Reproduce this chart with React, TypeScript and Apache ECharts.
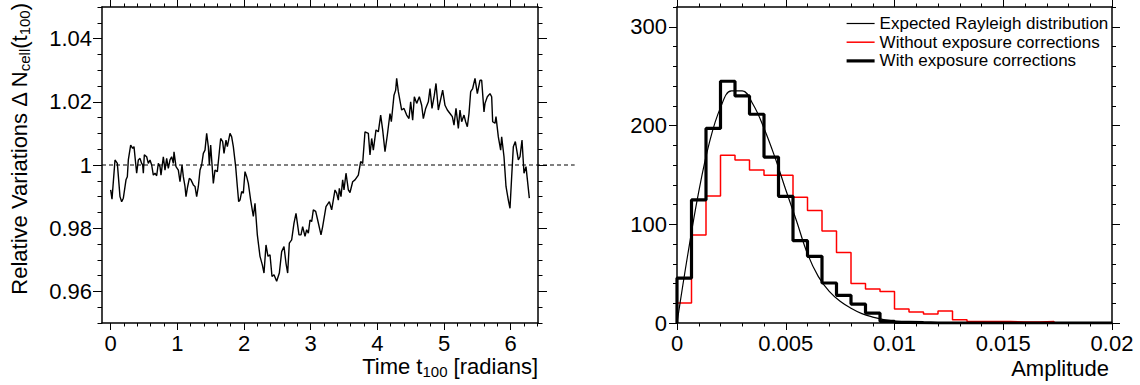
import React, { useEffect, useRef } from "react";
import * as echarts from "echarts";

// ---------- Left panel: relative variations vs time ----------
const relativeVariation: [number, number][] = [
  [0, 0.9921], [0.02, 0.9892], [0.065, 1.0016], [0.1, 1.0005], [0.14, 0.99], [0.165, 0.9884], [0.19, 0.9895], [0.23, 0.9953], [0.25, 0.9963], [0.265, 1.0016],
  [0.3, 1.0063], [0.33, 1.0053], [0.35, 1.0058], [0.365, 1.0026], [0.39, 0.9974], [0.415, 1.0016], [0.44, 1.0021], [0.465, 1.0005], [0.48, 1.0], [0.49, 0.9974],
  [0.505, 1.0032], [0.54, 1.0026], [0.565, 1.0005], [0.59, 1.0016], [0.615, 1.0], [0.64, 0.9968], [0.665, 0.9974], [0.69, 0.9966], [0.715, 1.0005], [0.74, 0.9995],
  [0.755, 0.9968], [0.79, 1.0026], [0.815, 0.9984], [0.84, 1.0021], [0.865, 0.9989], [0.89, 1.0016], [0.915, 1.0026], [0.94, 1.0005], [0.95, 1.0042], [0.98, 0.9995],
  [1.015, 0.9984], [1.04, 0.9947], [1.07, 1.0], [1.09, 0.9963], [1.115, 0.9932], [1.13, 0.99], [1.155, 0.9932], [1.18, 0.9958], [1.205, 0.9953], [1.24, 0.9937],
  [1.265, 0.9932], [1.29, 0.99], [1.315, 0.9932], [1.34, 0.9984], [1.365, 1.0], [1.39, 1.0037], [1.415, 1.0047], [1.44, 1.01], [1.465, 1.0058], [1.48, 1.0],
  [1.5, 1.0063], [1.54, 0.9942], [1.565, 0.9984], [1.6, 0.9979], [1.63, 1.0042], [1.65, 1.0084], [1.68, 1.0074], [1.7, 1.0037], [1.73, 1.0079], [1.75, 1.0058],
  [1.79, 1.01], [1.815, 1.0089], [1.84, 1.0058], [1.875, 0.9995], [1.9, 0.9932], [1.92, 0.9884], [1.94, 0.9889], [1.965, 0.9916], [1.99, 0.9911], [2.015, 0.9979],
  [2.04, 0.9963], [2.065, 0.9942], [2.1, 0.9889], [2.14, 0.9837], [2.165, 0.9879], [2.2, 0.9779], [2.24, 0.9711], [2.275, 0.9684], [2.3, 0.9658], [2.33, 0.9747],
  [2.36, 0.9711], [2.39, 0.9716], [2.42, 0.9647], [2.45, 0.9653], [2.49, 0.9632], [2.53, 0.9658], [2.565, 0.9726], [2.6, 0.9742], [2.63, 0.9689], [2.655, 0.9658],
  [2.68, 0.9753], [2.715, 0.9763], [2.75, 0.9816], [2.78, 0.9847], [2.825, 0.9779], [2.855, 0.9779], [2.88, 0.9805], [2.915, 0.9774], [2.94, 0.9795], [2.965, 0.9784],
  [2.99, 0.9826], [3.015, 0.9821], [3.04, 0.9858], [3.075, 0.9853], [3.105, 0.9826], [3.155, 0.9779], [3.18, 0.9805], [3.23, 0.9868], [3.28, 0.9884], [3.315, 0.9858],
  [3.365, 0.9921], [3.39, 0.9911], [3.415, 0.9889], [3.43, 0.9926], [3.455, 0.99], [3.48, 0.9953], [3.5, 0.9921], [3.53, 0.9974], [3.565, 0.9921], [3.59, 0.9913],
  [3.63, 0.9947], [3.665, 0.9953], [3.715, 0.9968], [3.75, 1.0011], [3.78, 1.0005], [3.815, 1.0105], [3.865, 1.01], [3.89, 1.0032], [3.915, 1.0084], [3.94, 1.0047],
  [3.98, 1.0111], [4.015, 1.0105], [4.05, 1.0158], [4.08, 1.0111], [4.115, 1.0042], [4.15, 1.0095], [4.19, 1.0163], [4.21, 1.0137], [4.25, 1.0221], [4.275, 1.0237],
  [4.29, 1.0274], [4.315, 1.0232], [4.365, 1.0174], [4.4, 1.0179], [4.44, 1.0158], [4.475, 1.0147], [4.5, 1.02], [4.53, 1.0142], [4.555, 1.0216], [4.59, 1.0195],
  [4.63, 1.0216], [4.665, 1.0189], [4.69, 1.0147], [4.725, 1.0179], [4.765, 1.02], [4.79, 1.0242], [4.82, 1.0179], [4.855, 1.0221], [4.88, 1.0258], [4.915, 1.0174],
  [4.98, 1.0237], [5.015, 1.0189], [5.05, 1.0174], [5.09, 1.0163], [5.125, 1.0153], [5.15, 1.0126], [5.18, 1.0179], [5.215, 1.0116], [5.24, 1.0174], [5.265, 1.0137],
  [5.3, 1.0158], [5.325, 1.0137], [5.35, 1.0121], [5.375, 1.0163], [5.4, 1.0232], [5.43, 1.0242], [5.465, 1.0274], [5.5, 1.0226], [5.54, 1.0268], [5.565, 1.0268],
  [5.6, 1.0168], [5.615, 1.0195], [5.65, 1.0216], [5.69, 1.0226], [5.715, 1.0216], [5.73, 1.0137], [5.765, 1.0132], [5.78, 1.0153], [5.815, 1.0089], [5.85, 1.0047],
  [5.865, 1.0089], [5.9, 1.0026], [5.93, 0.9932], [5.965, 0.9889], [5.99, 0.9863], [6.015, 0.9963], [6.04, 1.0058], [6.07, 1.0074], [6.115, 1.0016], [6.14, 1.0026],
  [6.17, 1.0079], [6.2, 0.9974], [6.23, 0.9995], [6.28, 0.9895],
];
const referenceLevel = 1;

// ---------- Right panel: amplitude histograms ----------
const AMP_MIN = 0;
const AMP_MAX = 0.02;
const N_BINS = 30;
const withoutCorrections = [
  20.2, 89.2, 128.6, 170, 165, 155, 149.5, 149.5, 127.3, 114,
  93.2, 71.5, 40.1, 34.4, 32, 14.1, 11.1, 9.1, 12.2, 3.3,
  1.6, 1.6, 1.6, 1, 1, 1.6, 0, 0, 0, 0,
];
const withCorrections = [
  45.5, 124.6, 197, 244.8, 230, 211.4, 168, 128.3, 83.4, 67.5,
  40.5, 28, 19.2, 10.1, 1.7, 0.7, 0.3, 0, 0, 0,
  0, 0, 0, 0, 0, 0, 0, 0, 0, 0,
];
const rayleighX = [0, 0.0005, 0.001, 0.0015, 0.002, 0.0025, 0.003, 0.0035, 0.004, 0.0045, 0.005, 0.0055, 0.006, 0.0065, 0.007, 0.0075, 0.008, 0.0085, 0.009, 0.0095, 0.01, 0.011, 0.012, 0.013, 0.02];
const rayleighY = [0, 69.9, 133, 183.6, 218.1, 235, 235.1, 221.2, 197.3, 168, 135, 103, 70, 47, 32, 22, 15, 9.5, 6, 3.5, 2, 0.6, 0.15, 0, 0];

// ---------- Tick labels ----------
const leftXTicks = [0, 1, 2, 3, 4, 5, 6];
const leftYTicks = [0.96, 0.98, 1, 1.02, 1.04];
const rightXTicks = [0, 0.005, 0.01, 0.015, 0.02];
const rightYTicks = [0, 100, 200, 300];

const legendNames = [
  "Expected Rayleigh distribution",
  "Without exposure corrections",
  "With exposure corrections",
];

const FONT = '"Liberation Sans", Arial, Helvetica, sans-serif';

function steps(start: number, stop: number, step: number, lo: number, hi: number) {
  const out: number[] = [];
  const n = Math.round((stop - start) / step);
  for (let i = 0; i <= n; i++) {
    const v = parseFloat((start + i * step).toFixed(6));
    if (v >= lo - 1e-9 && v <= hi + 1e-9) out.push(v);
  }
  return out;
}

function fmt(v: number) {
  return String(parseFloat(Number(v).toPrecision(6)));
}

function makeAxes(
  dim: "x" | "y",
  gridIndex: number,
  min: number,
  max: number,
  majors: number[],
  minors: number[],
  majorLen: number,
  minorLen: number
) {
  const positions = dim === "x" ? ["bottom", "top"] : ["left", "right"];
  const out: any[] = [];
  positions.forEach((pos, i) => {
    const base = { type: "value", gridIndex, position: pos, min, max, splitLine: { show: false }, silent: true };
    out.push({
      ...base,
      axisLine: { show: true, onZero: false, lineStyle: { color: "#000", width: 1.5 } },
      axisTick: { show: true, inside: false, length: majorLen, customValues: majors, lineStyle: { color: "#000", width: 1 } },
      axisLabel: {
        show: i === 0,
        customValues: majors,
        color: "#000",
        fontSize: 22,
        fontFamily: FONT,
        margin: dim === "x" ? 9 : 10,
        formatter: fmt,
      },
    });
    out.push({
      ...base,
      axisLine: { show: false, onZero: false },
      axisTick: { show: true, inside: false, length: minorLen, customValues: minors, lineStyle: { color: "#000", width: 1 } },
      axisLabel: { show: false },
    });
  });
  return out;
}

function histData(values: number[]) {
  const bw = (AMP_MAX - AMP_MIN) / N_BINS;
  const pts: [number, number][] = [[AMP_MIN, 0]];
  values.forEach((v, i) => pts.push([AMP_MIN + i * bw, v]));
  pts.push([AMP_MIN + values.length * bw, values[values.length - 1]]);
  return pts;
}

export default function App() {
  const ref = useRef<HTMLDivElement>(null);
  useEffect(() => {
    if (!ref.current) return;
    const chart = echarts.init(ref.current, undefined, { renderer: "svg" });
    const LX = [-0.13, 6.41];
    const LY = [0.95, 1.05];
    const RY = [0, 320];
    const xAxes = [
      ...makeAxes("x", 0, LX[0], LX[1], leftXTicks, steps(0, 6.4, 0.2, LX[0], LX[1]), 7, 3.5),
      ...makeAxes("x", 1, AMP_MIN, AMP_MAX, rightXTicks, steps(0, 0.02, 0.001, AMP_MIN, AMP_MAX), 7, 3.5),
    ];
    const yAxes = [
      ...makeAxes("y", 0, LY[0], LY[1], leftYTicks, steps(0.95, 1.05, 0.005, LY[0], LY[1]), 9, 4.5),
      ...makeAxes("y", 1, RY[0], RY[1], rightYTicks, steps(0, 320, 20, RY[0], RY[1]), 8, 4),
    ];
    chart.setOption({
      animation: false,
      backgroundColor: "#fff",
      grid: [
        { left: 102, top: 7, width: 436, height: 316 },
        { left: 677, top: 7, width: 435, height: 316 },
      ],
      xAxis: xAxes,
      yAxis: yAxes,
      legend: {
        data: legendNames,
        orient: "vertical",
        left: 845,
        top: 15,
        padding: 0,
        itemWidth: 28,
        itemHeight: 17,
        itemGap: 1.7,
        selectedMode: false,
        itemStyle: { opacity: 0 },
        lineStyle: { width: "inherit" },
        textStyle: { color: "#000", fontSize: 17, fontFamily: FONT },
      },
      series: [
        {
          type: "line",
          xAxisIndex: 0,
          yAxisIndex: 0,
          data: relativeVariation,
          showSymbol: false,
          symbol: "none",
          lineStyle: { color: "#000", width: 1.4 },
          clip: true,
        },
        {
          name: legendNames[0],
          type: "line",
          xAxisIndex: 4,
          yAxisIndex: 4,
          data: rayleighX.map((x, i) => [x, rayleighY[i]]),
          smooth: 0.4,
          symbol: "none",
          color: "#000",
          lineStyle: { color: "#000", width: 1.2 },
          z: 4,
        },
        {
          name: legendNames[1],
          type: "line",
          xAxisIndex: 4,
          yAxisIndex: 4,
          data: histData(withoutCorrections),
          step: "end",
          symbol: "none",
          color: "#ff0000",
          lineStyle: { color: "#ff0000", width: 1.5 },
          z: 2,
        },
        {
          name: legendNames[2],
          type: "line",
          xAxisIndex: 4,
          yAxisIndex: 4,
          data: histData(withCorrections),
          step: "end",
          symbol: "none",
          color: "#000",
          lineStyle: { color: "#000", width: 3.2 },
          z: 3,
        },
      ],
    });

    const p1 = chart.convertToPixel({ seriesIndex: 0 }, [LX[0], referenceLevel]) as number[];
    const p2 = chart.convertToPixel({ seriesIndex: 0 }, [6.96, referenceLevel]) as number[];

    const mainStyle = { fontSize: 22, fontFamily: FONT, lineHeight: 24, verticalAlign: "top", fill: "#000", color: "#000" };
    const subStyle = { fontSize: 15, fontFamily: FONT, lineHeight: 15, padding: [11, 0, 0, 0], verticalAlign: "bottom", fill: "#000", color: "#000" };

    chart.setOption({
      graphic: [
        {
          type: "line",
          silent: true,
          shape: { x1: p1[0], y1: p1[1], x2: p2[0], y2: p2[1] },
          style: { stroke: "#000", lineWidth: 1, lineDash: [4, 3] },
          z: 1,
        },
        {
          type: "text",
          x: 20,
          y: 3,
          rotation: Math.PI / 2,
          style: {
            text: "{m|Relative Variations Δ N}{s|cell}{m|(t}{s|100}{m|)}",
            rich: { m: mainStyle, s: subStyle },
            align: "right",
            textAlign: "right",
            verticalAlign: "middle",
            textVerticalAlign: "middle",
            fill: "#000",
          },
        },
        {
          type: "text",
          x: 538,
          y: 367,
          style: {
            text: "{m|Time t}{s|100}{m| [radians]}",
            rich: { m: mainStyle, s: subStyle },
            align: "right",
            textAlign: "right",
            verticalAlign: "middle",
            textVerticalAlign: "middle",
            fill: "#000",
          },
        },
        {
          type: "text",
          x: 1109,
          y: 368,
          style: {
            text: "Amplitude",
            font: `22px ${FONT}`,
            align: "right",
            textAlign: "right",
            verticalAlign: "middle",
            textVerticalAlign: "middle",
            fill: "#000",
          },
        },
      ],
    });

    return () => chart.dispose();
  }, []);
  return (
    <div
      ref={ref}
      style={{ position: "fixed", left: 0, top: 0, width: 1140, height: 385, background: "#fff" }}
    />
  );
}
